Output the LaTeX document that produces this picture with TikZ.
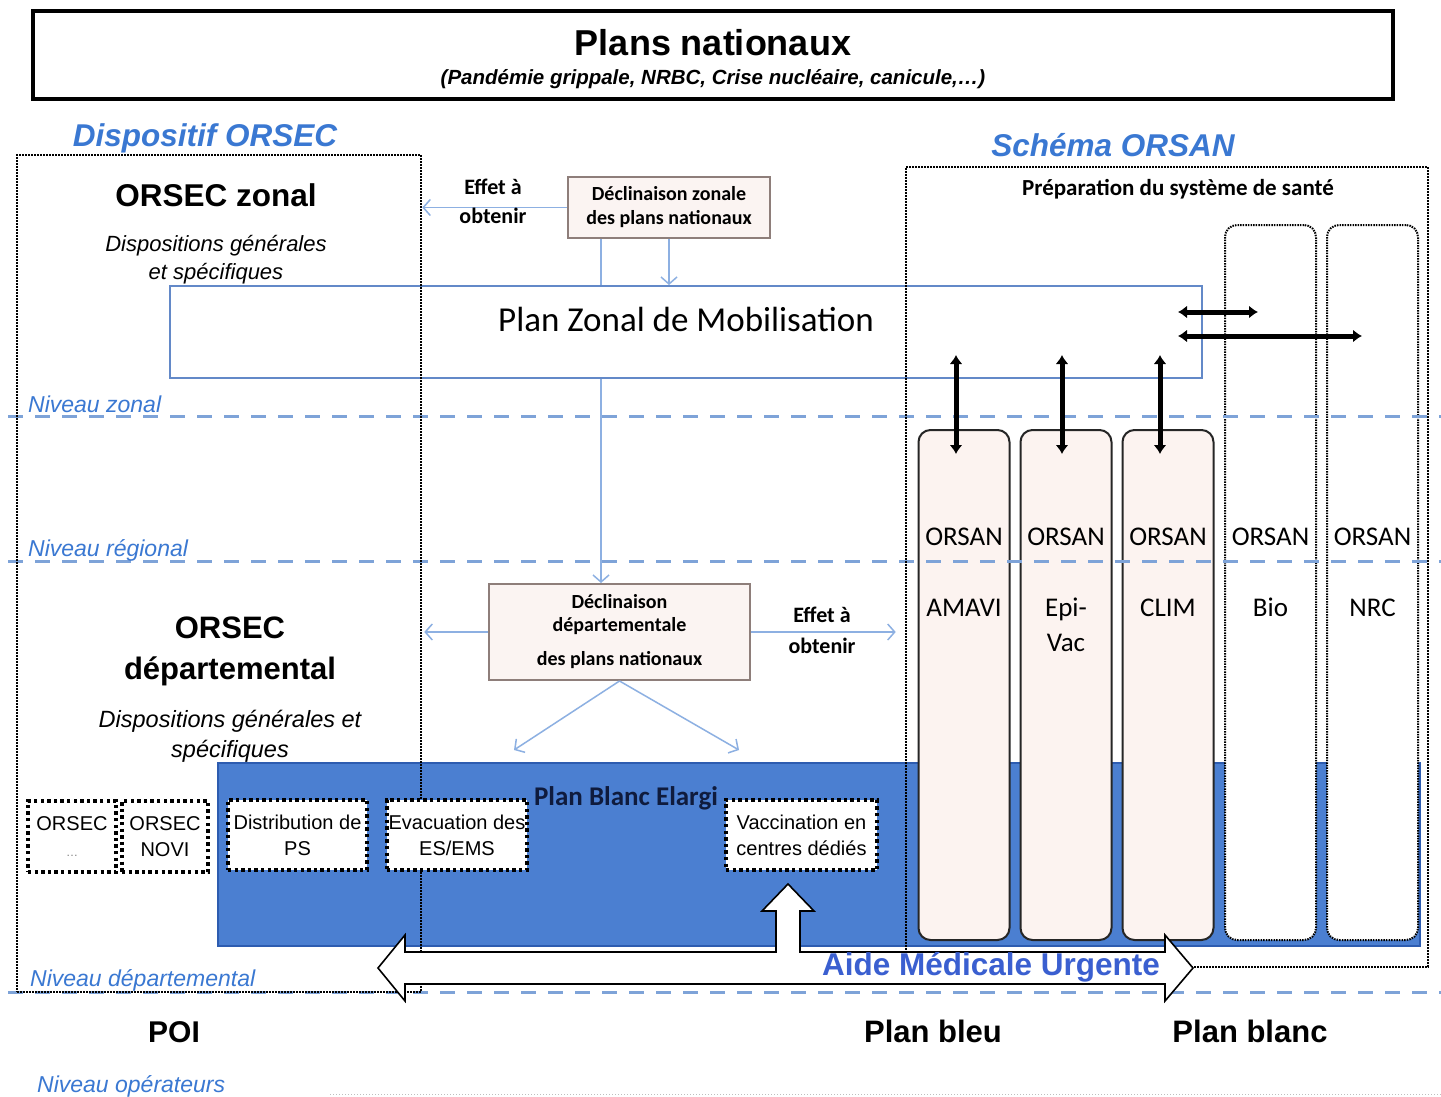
\documentclass[tikz,border=0pt]{standalone}
\usepackage{fontspec}
\setmainfont{Liberation Sans}
\newfontfamily\calib{Carlito}
\usetikzlibrary{arrows.meta}

\definecolor{lvlblue}{HTML}{3A78D2}
\definecolor{dashblue}{HTML}{7EA3D8}
\definecolor{bandblue}{HTML}{4B7FD1}
\definecolor{bandedge}{HTML}{2D5CB0}
\definecolor{thinblue}{HTML}{8DB0E2}
\definecolor{zoneblue}{HTML}{6389C8}
\definecolor{colfill}{HTML}{FCF3F0}
\definecolor{declfill}{HTML}{FBF4F2}
\definecolor{decledge}{HTML}{8E7E7A}
\definecolor{amublue}{HTML}{3A5FD0}
\definecolor{amuedge}{HTML}{1A2F8A}
\definecolor{pbetext}{HTML}{0F1B3D}

\newcommand\fsz[2]{\fontsize{#1}{#2}\selectfont}

\tikzset{
  lbl/.style={anchor=base, inner sep=0pt},
  lvl/.style={anchor=base west, inner sep=0pt, font=\itshape\fsz{23}{27}, text=lvlblue},
  lvlline/.style={draw=dashblue, line width=3pt, dash pattern=on 15pt off 12pt},
  framebox/.style={draw=black, line width=2.6pt, dash pattern=on 1.8pt off 1.2pt, inner sep=0pt},
  smallbox/.style={draw=black, fill=white, line width=3.4pt, dash pattern=on 3.4pt off 3.2pt,
    inner sep=0pt, align=center, font=\fsz{20}{26}},
  declbox/.style={draw=decledge, fill=declfill, line width=2pt, inner sep=0pt, align=center,
    font=\calib\bfseries\fsz{20}{24}},
  solidcol/.style={draw=black!85, fill=colfill, line width=2pt, rounded corners=12pt, inner sep=0pt,
    minimum width=91pt, minimum height=510pt},
  dotcol/.style={draw=black, fill=white, line width=2pt, dash pattern=on 1.5pt off 1.1pt,
    rounded corners=12pt, inner sep=0pt, minimum width=91pt, minimum height=715pt},
  collbl/.style={anchor=base, inner sep=0pt, font=\calib\fsz{27}{32}},
  thinline/.style={draw=thinblue, line width=1.5pt},
  thinarrow/.style={thinline, -{Straight Barb[length=7pt,width=16pt]}},
  heavyarrow/.style={line width=5pt, {Latex[length=9pt,width=13pt]}-{Latex[length=9pt,width=13pt]}},
}

\begin{document}
\begin{tikzpicture}[x=1pt,y=-1pt]
\useasboundingbox (0,0) rectangle (1441,1097);
\fill[white] (0,0) rectangle (1441,1097);

% national level
\node[draw, line width=4pt, minimum width=1360pt, minimum height=88pt, inner sep=0pt] (nat) at (713,55) {};
\node[lbl, font=\bfseries\fsz{36}{40}] (natT) at (713,56) {Plans nationaux};
\node[lbl, font=\bfseries\itshape\fsz{20.5}{24}] (natS) at (713,85) {(Pandémie grippale, NRBC, Crise nucléaire, canicule,…)};

% extended white plan band
\node[draw=bandedge, fill=bandblue, line width=1.5pt, minimum width=1202pt, minimum height=183pt, inner sep=0pt] (pbe) at (819,854.5) {};

% zonal mobilisation plan
\node[draw=zoneblue, fill=white, line width=2pt, minimum width=1032pt, minimum height=92pt, inner sep=0pt] (pzm) at (686,332) {};

% ORSAN columns
\node[solidcol] (cA) at (964,685) {};
\node[solidcol] (cE) at (1066,685) {};
\node[solidcol] (cC) at (1168,685) {};
\node[dotcol] (cB) at (1270.5,582.5) {};
\node[dotcol] (cN) at (1372.5,582.5) {};

% levels
\draw[lvlline] (8,416) -- (1441,416);
\draw[lvlline] (8,561) -- (1441,561);
\draw[lvlline] (8,992) -- (1441,992);
\draw[black!25, line width=1pt, dash pattern=on 1pt off 2pt] (330,1094) -- (1441,1094);

% ORSEC and ORSAN frames
\node[framebox, minimum width=404pt, minimum height=837pt] (orsec) at (219,573.5) {};
\node[framebox, minimum width=522pt, minimum height=800pt] (orsan) at (1167,567) {};

% operational boxes
\node[smallbox, minimum width=88pt, minimum height=71pt] (bOrsec) at (72,836.5) {ORSEC\\{\color{gray}\fsz{12}{14}…}};
\node[smallbox, minimum width=86pt, minimum height=71pt] (bNovi) at (165,836.5) {ORSEC\\NOVI};
\node[smallbox, minimum width=139pt, minimum height=70pt] (bPS) at (297.5,835) {Distribution de\\PS};
\node[smallbox, minimum width=140pt, minimum height=70pt] (bEva) at (457,835) {Evacuation des\\ES/EMS};
\node[smallbox, minimum width=151pt, minimum height=70pt] (bVac) at (801.5,835) {Vaccination en\\centres dédiés};

% declinations of the national plans
\node[declbox, minimum width=202pt, minimum height=61pt] (declz) at (669,207.5) {Déclinaison zonale\\des plans nationaux};
\node[declbox, minimum width=261pt, minimum height=96pt, font=\calib\bfseries\fsz{20}{23}] (declD) at (619.5,632) {Déclinaison\\départementale\\[11pt]des plans nationaux};

% thin connectors
\coordinate (stem) at ([xshift=34pt]declz.south west);
\coordinate (stemB) at ([xshift=102pt]declz.south west);
\draw[thinarrow] (declz.west) -- (declz.west -| orsec.east);
\draw[thinline] (stem) -- (stem |- pzm.north);
\draw[thinarrow] (stemB) -- (stemB |- pzm.north);
\draw[thinarrow] (stem |- pzm.south) -- (stem |- declD.north);
\draw[thinarrow, shorten >=2pt] (declD.west) -- (declD.west -| orsec.east);
\draw[thinarrow, shorten >=9pt] (declD.east) -- (declD.east -| orsan.west);
\coordinate (dgL) at (514,750);
\coordinate (dgR) at (739,750);
\draw[thinarrow] (declD.south) -- (dgL);
\draw[thinarrow] (declD.south) -- (dgR);

% heavy links between the zonal plan and the ORSAN columns
\coordinate (vA) at (956,355);
\coordinate (vE) at (1062,355);
\coordinate (vC) at (1160,355);
\draw[heavyarrow, shorten >=-25pt] (vA) -- (vA |- cA.north);
\draw[heavyarrow, shorten >=-25pt] (vE) -- (vE |- cE.north);
\draw[heavyarrow, shorten >=-25pt] (vC) -- (vC |- cC.north);
\coordinate (hA) at (1178,312);
\coordinate (hAe) at (1258,312);
\coordinate (hB) at (1178,336);
\coordinate (hBe) at (1362,336);
\draw[heavyarrow] (hA) -- (hAe);
\draw[heavyarrow] (hB) -- (hBe);

% emergency medical aid arrow
\draw[fill=white, draw=black, line width=1.6pt, line join=miter]
  (378,968) -- (405,935) -- (405,952) -- (776,952) -- (776,911) -- (762,911) -- (788,884)
  -- (814,911) -- (800,911) -- (800,952) -- (1165,952) -- (1165,935) -- (1193,968)
  -- (1165,1001) -- (1165,984) -- (405,984) -- (405,1001) -- cycle;

% texts
\node[lbl, font=\bfseries\itshape\fsz{31.5}{36}, text=lvlblue] (dispT) at (205,147) {Dispositif ORSEC};
\node[lbl, font=\bfseries\fsz{31.5}{36}] (ozT) at (216,207) {ORSEC zonal};
\node[lbl, font=\itshape\fsz{22}{28}] (ozD1) at (216,251) {Dispositions générales};
\node[lbl, font=\itshape\fsz{22}{28}] (ozD2) at (216,279) {et spécifiques};
\node[lbl, font=\calib\bfseries\fsz{22}{26}] (eff1) at (493,194) {Effet à};
\node[lbl, font=\calib\bfseries\fsz{22}{26}] (eff1b) at (493,223) {obtenir};
\node[lbl, font=\calib\fsz{35}{40}] (pzmT) at (686,331) {Plan Zonal de Mobilisation};
\node[lbl, font=\bfseries\itshape\fsz{31.5}{36}, text=lvlblue] (schT) at (1113,157) {Schéma ORSAN};
\node[lbl, font=\calib\bfseries\fsz{23}{28}] (prepT) at (1178,196) {Préparation du système de santé};

\node[lbl, font=\bfseries\fsz{31}{36}] (odT1) at (230,638) {ORSEC};
\node[lbl, font=\bfseries\fsz{31}{36}] (odT2) at (230,679) {départemental};
\node[lbl, font=\itshape\fsz{23.5}{28}] (odD1) at (230,727) {Dispositions générales et};
\node[lbl, font=\itshape\fsz{23.5}{28}] (odD2) at (230,757) {spécifiques};
\node[lbl, font=\calib\bfseries\fsz{22}{26}] (eff2) at (822,622) {Effet à};
\node[lbl, font=\calib\bfseries\fsz{22}{26}] (eff2b) at (822,653) {obtenir};

\node[collbl] (oA) at (964,545) {ORSAN};
\node[collbl] (oE) at (1066,545) {ORSAN};
\node[collbl] (oC) at (1168,545) {ORSAN};
\node[collbl] (oB) at (1270.5,545) {ORSAN};
\node[collbl] (oN) at (1372.5,545) {ORSAN};
\node[collbl] (nA) at (964,616) {AMAVI};
\node[collbl] (nE) at (1066,616) {Epi-};
\node[collbl] (nE2) at (1066,651) {Vac};
\node[collbl] (nC) at (1168,616) {CLIM};
\node[collbl] (nB) at (1270.5,616) {Bio};
\node[collbl] (nN) at (1372.5,616) {NRC};

\node[lbl, font=\calib\bfseries\fsz{27}{32}, text=pbetext] (pbeT) at (626,805) {Plan Blanc Elargi};
\node[lbl, font=\bfseries\fsz{31.5}{36}, text=amublue] (amuT) at (991,975) {Aide Médicale Urgente};

\node[lvl] (lvZ) at (28,412) {Niveau zonal};
\node[lvl] (lvR) at (28,556) {Niveau régional};
\node[lvl] (lvD) at (30,986) {Niveau départemental};
\node[lvl] (lvO) at (37,1092) {Niveau opérateurs};

\node[lbl, font=\bfseries\fsz{30}{36}] (poi) at (174,1042) {POI};
\node[lbl, font=\bfseries\fsz{31}{36}] (pbleu) at (933,1042) {Plan bleu};
\node[lbl, font=\bfseries\fsz{31}{36}] (pblanc) at (1250,1042) {Plan blanc};
\end{tikzpicture}
\end{document}
